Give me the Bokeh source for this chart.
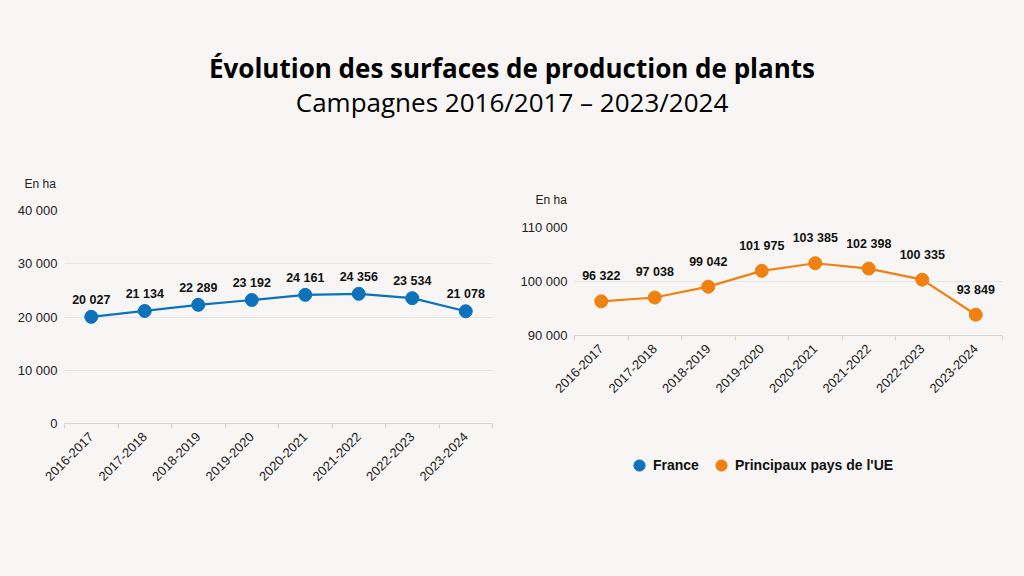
from bokeh.plotting import figure
from bokeh.models import (Range1d, FixedTicker, ColumnDataSource, LabelSet, Title,
                          Legend, LegendItem, Div)
from bokeh.core.properties import value
from bokeh.layouts import column, row
from bokeh.embed import file_html
from bokeh.resources import INLINE
from math import pi

# ---------------- data ----------------
campaigns = ["2016-2017", "2017-2018", "2018-2019", "2019-2020",
             "2020-2021", "2021-2022", "2022-2023", "2023-2024"]
france = [20027, 21134, 22289, 23192, 24161, 24356, 23534, 21078]
ue = [96322, 97038, 99042, 101975, 103385, 102398, 100335, 93849]
france_ticks = [0, 10000, 20000, 30000, 40000]
ue_ticks = [90000, 100000, 110000]
unit_label = "En ha"
title_text = "Évolution des surfaces de production de plants"
subtitle_text = "Campagnes 2016/2017 – 2023/2024"
series_names = ["France", "Principaux pays de l'UE"]

BG = "#f7f6f4"
BLUE = "#0b72bb"
ORANGE = "#f08110"
GRID = "#e7e6e4"
AXIS = "#d6d6d6"
FONT = "Liberation Sans"


def fr(v):
    return f"{v:,}".replace(",", " ")


idx = list(range(len(campaigns)))


def make_fig(values, ticks, ymin, ymax, color, label_offset, height,
             border_left, border_right, border_top, border_bottom, unit_offset, unit_standoff):
    p = figure(width=512, height=height, output_backend="svg", toolbar_location=None,
               x_range=Range1d(-0.5, len(campaigns) - 0.5),
               y_range=Range1d(ymin, ymax),
               min_border_left=border_left, min_border_right=border_right,
               min_border_top=border_top, min_border_bottom=border_bottom,
               background_fill_color=BG, border_fill_color=BG,
               outline_line_color=None)
    p.add_layout(Title(text=unit_label, align="left", offset=unit_offset,
                       standoff=unit_standoff, text_font=FONT, text_font_size="12px",
                       text_font_style="normal", text_color="#222222"), "above")
    # x axis: labels at category centres, small ticks at boundaries
    p.xaxis.ticker = FixedTicker(ticks=idx,
                                 minor_ticks=[i - 0.5 for i in range(len(campaigns) + 1)])
    p.xaxis.major_label_overrides = {i: c for i, c in zip(idx, campaigns)}
    p.xaxis.major_label_orientation = pi / 4
    p.xaxis.major_tick_line_color = None
    p.xaxis.major_tick_out = 0
    p.xaxis.major_tick_in = 0
    p.xaxis.minor_tick_line_color = AXIS
    p.xaxis.minor_tick_out = 5
    p.xaxis.minor_tick_in = 0
    p.xaxis.axis_line_color = AXIS
    p.xaxis.major_label_standoff = 6
    p.xaxis.major_label_text_font = FONT
    p.xaxis.major_label_text_font_size = "13px"
    p.xaxis.major_label_text_color = "#222222"
    # y axis
    p.yaxis.ticker = FixedTicker(ticks=ticks)
    p.yaxis.major_label_overrides = {t: fr(t) for t in ticks}
    p.yaxis.axis_line_color = None
    p.yaxis.major_tick_line_color = None
    p.yaxis.minor_tick_line_color = None
    p.yaxis.major_tick_out = 0
    p.yaxis.major_label_standoff = 7
    p.yaxis.major_label_text_font = FONT
    p.yaxis.major_label_text_font_size = "13px"
    p.yaxis.major_label_text_color = "#222222"
    p.xgrid.grid_line_color = None
    p.ygrid.ticker = FixedTicker(ticks=ticks)
    p.ygrid.grid_line_color = GRID

    src = ColumnDataSource(dict(x=idx, y=values, lab=[fr(v) for v in values]))
    p.line("x", "y", source=src, line_color=color, line_width=2.2)
    p.scatter("x", "y", source=src, size=13, fill_color=color, line_color=color)
    p.add_layout(LabelSet(x="x", y="y", text="lab", source=src, y_offset=label_offset,
                          text_align="center", text_baseline="middle",
                          text_font=value(FONT), text_font_style="bold",
                          text_font_size="12.5px", text_color="#111111"))
    return p


p1 = make_fig(france, france_ticks, 0, 40000, BLUE, 17, 426, 64, 20, 60, 153, -40, 40)
p2 = make_fig(ue, ue_ticks, 90000, 110000, ORANGE, 25, 290, 62, 22, 77, 105, -39, 42)

# legend strip under the right chart (key glyphs come from hidden copies of the series)
leg = figure(width=512, height=136, output_backend="svg", toolbar_location=None,
             x_range=Range1d(-0.5, len(campaigns) - 0.5), y_range=Range1d(0, 1),
             x_axis_location=None, y_axis_location=None,
             min_border_left=62, min_border_right=22, min_border_top=0, min_border_bottom=0,
             background_fill_color=BG, border_fill_color=BG, outline_line_color=None)
leg.xgrid.grid_line_color = None
leg.ygrid.grid_line_color = None
k_fr = leg.scatter(idx, france, size=13, fill_color=BLUE, line_color=BLUE, visible=False)
k_ue = leg.scatter(idx, ue, size=13, fill_color=ORANGE, line_color=ORANGE, visible=False)
legend = Legend(items=[LegendItem(label=series_names[0], renderers=[k_fr]),
                       LegendItem(label=series_names[1], renderers=[k_ue])],
                location=(51, 97), orientation="horizontal",
                glyph_width=28, glyph_height=28, label_standoff=0, spacing=8,
                padding=0, margin=0, border_line_color=None, background_fill_alpha=0,
                label_text_font=FONT, label_text_font_style="bold",
                label_text_font_size="14px", label_text_color="#111111")
leg.add_layout(legend)

header = Div(width=1024, height=150, styles={"background-color": BG, "margin": "0"},
             text=f"""<div style="position:relative;width:1024px;height:150px;">
<div style="position:absolute;left:0;top:53px;width:1024px;text-align:center;font-family:'Open Sans';font-weight:bold;font-size:26px;line-height:30px;color:#000;">{title_text}</div>
<div style="position:absolute;left:0;top:87px;width:1024px;text-align:center;font-family:'Open Sans';font-size:26px;line-height:30px;color:#000;">{subtitle_text}</div>
</div>""")

layout = column(header, row(column(p1), column(p2, leg)), styles={"background-color": BG})
open("out.html", "w").write(file_html(layout, INLINE))
